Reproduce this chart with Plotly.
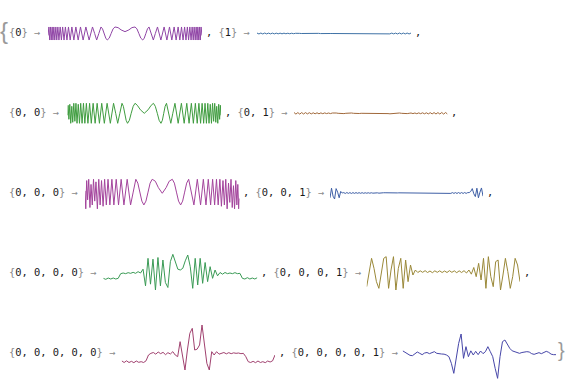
import plotly.graph_objects as go

W, H = 566, 386

# ---------------- data ----------------
# {0}  (time 0..100, value)
t_00 = [0, 0.6, 1.1, 1.6, 2.1, 2.7, 3.2, 3.8, 4.4, 5.1, 5.7, 6.4, 7.1, 7.9, 8.7, 9.5, 10.4, 11.3, 12.3, 13.3,
        14.4, 15.5, 16.8, 18.1, 19.6, 21.1, 22.8, 24.6, 26.7, 28.9, 30.3, 31.6, 33.0, 34.4, 35.4, 36.45, 37.5, 38.5,
        39.75, 41.0, 42.25, 43.5, 45.5, 47.5, 50,
        52.5, 54.5, 56.5, 57.75, 59, 60.25, 61.5, 62.5, 63.55, 64.6, 65.6, 67, 68.4, 69.7, 71.1, 73.3, 75.4, 77.2,
        78.9, 80.4, 81.9, 83.2, 84.5, 85.6, 86.7, 87.7, 88.7, 89.6, 90.5, 91.3, 92.1, 92.9, 93.6, 94.3, 94.9, 95.6,
        96.2, 96.8, 97.3, 97.9, 98.4, 98.9, 99.4, 100]
v_00 = [-0.3, 1, -1, 1, -1, 1, -1, 1, -1, 1, -1, 1, -1, 1, -1, 1, -1, 1, -1, 1,
        -1, 1, -1, 1, -1, 1, -1, 1, -1, 1, 0, -1, 0, 1, 0.71, 0, -0.71, -1,
        -0.71, 0, 0.71, 1, 0.9, 0.55, 0.28,
        0.55, 0.9, 1, 0.71, 0, -0.71, -1, -0.71, 0, 0.71, 1, 0, -1, 0, 1, -1, 1, -1,
        1, -1, 1, -1, 1, -1, 1, -1, 1, -1, 1, -1, 1, -1, 1, -1, 1, -1,
        1, -1, 1, -1, 1, -1, 1, -0.3]

# {1}  (uniform samples)
v_01 = [0.07, -0.07, 0.07, -0.07, 0.07, -0.06, 0.06, -0.06, 0.06, -0.06, 0.05, -0.05, 0.05, -0.05, 0.05, -0.04,
        0.04, -0.04, 0.04, -0.03, 0.03, -0.03, 0.02,
        0.0, 0.01, 0.0, -0.01, 0.0, 0.02, 0.04, 0.05, 0.04, 0.02, -0.01, -0.03, -0.04, -0.03, 0.0, 0.0, 0.0, 0.0, 0.0,
        0.0, -0.03, -0.04, -0.03, -0.01, 0.02, 0.04, 0.05, 0.04, 0.02, 0.0, -0.01, 0.0, 0.01, 0.0,
        -0.02, 0.02, -0.03, 0.03, -0.03, 0.04, -0.04, 0.04, -0.05, 0.05, -0.05, 0.05, -0.06, 0.06, -0.06, 0.06,
        -0.07, 0.07, -0.07, 0.07, -0.07, 0.07, -0.07, 0.07]

# {0, 0}
t_000 = [0, 0.4, 0.9, 1.5, 2.1, 2.8, 3.4, 4.1, 4.8, 5.5, 6.2, 7.0, 7.8, 8.6, 9.5, 10.4, 11.3, 12.3, 13.3, 14.4,
         15.5, 16.7, 18.0, 19.3, 20.8, 22.3, 24.0, 25.8, 27.9, 30.0, 31.4, 32.7, 34.1, 35.5, 36.4, 37.3, 38.2, 39.1,
         40.3, 41.5, 42.8, 44.0, 45.5, 47.5, 50,
         52.5, 54.5, 56, 57.2, 58.5, 59.7, 60.9, 61.8, 62.7, 63.6, 64.5, 65.9, 67.3, 68.6, 70, 72.1, 74.2, 76, 77.7,
         79.2, 80.7, 82, 83.3, 84.5, 85.6, 86.7, 87.7, 88.7, 89.6, 90.5, 91.4, 92.2, 93, 93.8, 94.5, 95.2, 95.9,
         96.6, 97.2, 97.9, 98.5, 99.1, 99.6, 100]
v_000 = [-0.2, 0.8, -0.6, 0.9, -1, 0.7, -0.9, 1, -0.8, 1, -1, 0.9, -1, 1, -1, 1, -1, 1, -1, 1,
         -1, 1, -1, 1, -1, 1, -1, 1, -1, 1, 0, -1, 0, 1, 0.7, 0, -0.7, -1,
         -0.7, 0, 0.7, 1, 0.8, 0.35, 0.0,
         0.35, 0.8, 1, 0.7, 0, -0.7, -1, -0.7, 0, 0.7, 1, 0, -1, 0, 1, -1, 1, -1, 1,
         -1, 1, -1, 1, -1, 1, -1, 1, -1, 1, -1, 1, -1, 0.9, -1, 1, -0.8, 1,
         -0.9, 0.7, -1, 0.9, -0.6, 0.8, -0.2]

# {0, 1}
v_001 = [0.08, -0.08, 0.07, -0.08, 0.07, -0.07, 0.07, -0.06, 0.06, -0.06, 0.05, -0.05, 0.05, -0.05, 0.04, -0.04,
         0.04, -0.03, 0.03, -0.03,
         0.03, 0.05, 0.03, 0.0, -0.03, -0.05, -0.03, 0.0, 0.03, 0.05, 0.03, 0.0, -0.02, -0.03, -0.02, 0.0, 0.0,
         0.01, 0.02, 0.01,
         0.0, -0.01, -0.02, -0.01, 0.0, 0.02, 0.03, 0.02, 0.0, -0.03, -0.05, -0.03, 0.0, 0.03, 0.05, 0.03, 0.0,
         -0.03, -0.05, -0.03,
         0.0, 0.03, -0.03, 0.03, -0.04, 0.04, -0.04, 0.05, -0.05, 0.05, -0.06, 0.06, -0.06, 0.07, -0.07, 0.07,
         -0.07, 0.08, -0.08, 0.08, -0.08]

# {0, 0, 0}
t_0000 = [0, 0.5, 1.1, 1.7, 2.4, 3.2, 3.9, 4.7, 5.5, 6.3, 7.1, 8.0, 8.9, 9.8, 10.7, 11.7, 12.7, 13.8, 14.9, 16.1,
          17.4, 18.7, 20.2, 21.7, 23.4, 25.2, 27.3, 29.5, 31.2, 32.9, 34.2, 35.5, 36.8, 38.1, 39.45, 40.8, 42.15,
          43.5, 45.5, 47.5, 50,
          52.5, 54.5, 56.5, 57.85, 59.2, 60.55, 61.9, 63.2, 64.5, 65.8, 67.1, 68.8, 70.5, 72.7, 74.8, 76.6, 78.3,
          79.8, 81.3, 82.6, 83.9, 85.1, 86.2, 87.3, 88.3, 89.3, 90.2, 91.1, 92.0, 92.9, 93.7, 94.5, 95.3, 96.1,
          96.8, 97.6, 98.3, 98.9, 99.5, 100]
v_0000 = [0.1, -1.3, 0.9, -0.6, 1.0, -1.2, 0.6, -1.0, 1.0, -0.7, 0.8, -1.3, 1.0, -1.0, 0.9, -1.1, 1.0, -1.0, 1.0, -1.0,
          1.0, -1.0, 1.0, -1.0, 1.0, -1.0, 1.0, -1.0, 0, 1, 0.7, 0, -0.7, -1, -0.7, 0, 0.7,
          1, 0.85, 0.35, -0.09,
          0.35, 0.85, 1, 0.7, 0, -0.7, -1, -0.7, 0, 0.7, 1, 0, -1, 1, -1, 1, -1,
          1, -1, 1, -1, 1, -1, 1, -1.1, 0.9, -1.0, 1.0, -1.3, 0.7, -0.8, 1.0, -1.2, 0.5,
          -1.3, 0.9, -1.0, 0.6, -1.3, -0.5]

# {0, 0, 1}
v_0001 = [-0.6, 0.6, -0.4, -0.75, 0.55, 0.1, -0.6, 0.2, 0.0, 0.05,
          -0.06, 0.06, -0.05, 0.05, -0.06, 0.05, -0.05, 0.05, -0.04, 0.04,
          -0.04, 0.04, -0.04, 0.03, -0.03, 0.03, -0.03, 0.03, -0.02, 0.02,
          -0.02, 0.02, -0.02, 0.02, 0.02, 0.03, 0.03, 0.02, 0.0, -0.02,
          -0.03, -0.03, -0.02, 0.0, 0.01, 0.02, 0.02, 0.01, 0.0, 0.0, 0.0, 0.0, 0.0, -0.01, -0.02, -0.02, -0.01,
          0.0, 0.02, 0.03, 0.03,
          0.02, 0.0, -0.02, 0.02, -0.02, 0.02, -0.02, 0.02, -0.03, 0.03,
          -0.03, 0.03, -0.03, 0.04, -0.04, 0.04, -0.04, 0.04, -0.05, 0.05,
          -0.05, 0.05, -0.06, 0.06, -0.06, 0.06, -0.06, 0.06, -0.05, 0.05,
          0.05, 0.2, 0.55, -0.1, -0.45, 0.6, -0.6, 0.1, 0.63, -0.4]

# {0, 0, 0, 0}
v_00000 = [-0.40, -0.46, -0.38, -0.44, -0.38, -0.44, -0.40, -0.12, -0.08, -0.12,
           -0.06, -0.10, -0.04, -0.10, 0.00, -0.08, 0.15, -0.85, 0.80, -0.75,
           0.75, -1.10, 0.85, -0.85, 0.70, -0.65, -0.95, 0.60, 1.04, 0.55,
           0.15, 0.10, 0.20, 0.65, 1.00, 0.30, -1.00, 0.80, -0.80, 0.80,
           -0.70, 0.55, -0.60, 0.30, -0.40, 0.10, -0.25, -0.05, -0.15, -0.05,
           -0.12, -0.08, -0.12, -0.06, -0.12, -0.10, -0.40, -0.44, -0.36, -0.44,
           -0.38, -0.44, -0.36]

# {0, 0, 0, 1}
v_00001 = [-0.90, 0.00, 0.80, 0.20, -0.60, -1.00, -0.20, 0.80, 0.90, -1.00,
           0.10, 0.90, -1.10, 0.20, 0.80, -1.00, 0.70, -0.60, 0.40, -0.20,
           0.10, -0.05, 0.05, -0.04, 0.06, -0.05, 0.04, -0.06, 0.05, -0.04,
           0.05, -0.05, 0.04, -0.05, 0.06, -0.04, 0.05, -0.06, 0.05, -0.05,
           0.06, -0.08, 0.10, -0.15, 0.25, -0.30, 0.50, -0.50, 0.80, -1.00,
           0.90, -0.30, -0.90, 0.60, 0.70, -1.10, -0.20, 0.80, 0.00, -1.00,
           -0.30, 0.80, 0.40, -0.60]

# {0, 0, 0, 0, 0}
v_000000 = [-0.45, -0.55, -0.45, -0.55, -0.48, -0.56, -0.46, -0.54, -0.50, -0.55,
            -0.45, -0.10, 0.00, 0.05, -0.05, 0.08, -0.02, 0.06, -0.08, 0.04,
            -0.04, 0.10, -0.10, -0.20, 0.70, -0.30, -1.00, 0.20, 1.20, 1.50,
            0.20, 0.25, 0.50, 1.70, 0.60, -0.60, -1.00, 0.10, -0.10, 0.10,
            -0.05, 0.00, 0.05, -0.03, 0.04, -0.02, 0.03, 0.00, 0.02, -0.02,
            0.00, -0.20, -0.50, -0.55, -0.48, -0.56, -0.46, -0.55, -0.50, -0.56,
            -0.46, -0.52, -0.45, -0.10]

# {0, 0, 0, 0, 1}
v_000001 = [0.15, 0.05, -0.05, -0.12, -0.14, -0.02, 0.08, 0.00, -0.08, 0.02,
            0.05, -0.02, 0.06, 0.10, 0.00, -0.04, -0.04, -0.05, -0.10, -0.20,
            -0.60, -1.20, -0.30, 0.60, 1.16, -0.30, 0.40, -0.20, 0.15, -0.10,
            0.12, -0.08, 0.14, -0.02, 0.10, 0.40, 0.10, -0.20, -0.90, -1.50,
            -0.20, 0.70, 0.80, 0.50, 0.30, 0.15, 0.10, 0.05, 0.00, 0.05,
            0.08, 0.10, 0.08, -0.02, -0.06, 0.00, 0.04, -0.02, 0.06, 0.12,
            0.06, -0.05, -0.08, -0.08]

labels = [["{0}", "{1}"], ["{0, 0}", "{0, 1}"], ["{0, 0, 0}", "{0, 0, 1}"],
          ["{0, 0, 0, 0}", "{0, 0, 0, 1}"], ["{0, 0, 0, 0, 0}", "{0, 0, 0, 0, 1}"]]

# ---------------- layout of panels (pixels) ----------------
panels = [
    (t_00, v_00, "#9046a6", (48, 202), (26, 41), (-1.15, 1.15)),
    (None, v_01, "#3f72a6", (257, 411), (26, 41), (-1.15, 1.15)),
    (t_000, v_000, "#3f9c3f", (67.5, 221), (102.3, 124.3), (-1.1, 1.1)),
    (None, v_001, "#a0683a", (294, 447.5), (102.3, 124.3), (-1.1, 1.1)),
    (t_0000, v_0000, "#a3449c", (85, 239.5), (178, 211), (-1.47, 1.1)),
    (None, v_0001, "#3e5fa6", (330, 483), (185, 201), (-1.0, 1.0)),
    (None, v_00000, "#3a9a55", (103.3, 257.3), (254, 290), (-1.1, 1.06)),
    (None, v_00001, "#9a8838", (366.7, 520), (254, 290), (-1.1, 1.06)),
    (None, v_000000, "#a0416f", (121.7, 275), (324, 371), (-1.06, 1.76)),
    (None, v_000001, "#4646a8", (402.7, 556), (333, 379.5), (-1.57, 1.22)),
]

fig = go.Figure()
layout_axes = {}
for k, (xs, ys, col, (x0, x1), (y0, y1), yr) in enumerate(panels, start=1):
    if xs is None:
        xs = list(range(len(ys)))
    sfx = "" if k == 1 else str(k)
    fig.add_trace(go.Scatter(x=xs, y=ys, mode="lines", line=dict(color=col, width=1),
                             xaxis="x" + sfx, yaxis="y" + sfx, hoverinfo="skip", showlegend=False))
    layout_axes["xaxis" + sfx] = dict(domain=[x0 / W, x1 / W], range=[min(xs), max(xs)],
                                      visible=False, anchor="y" + sfx, fixedrange=True)
    layout_axes["yaxis" + sfx] = dict(domain=[1 - y1 / H, 1 - y0 / H], range=list(yr),
                                      visible=False, anchor="x" + sfx, fixedrange=True)

GRAY = "#8a8a8a"


def fmt(s, lead_comma=False):
    s = s.replace("{", "<span style='color:%s'>{</span>" % GRAY)
    s = s.replace("}", "<span style='color:%s'>}</span>" % GRAY)
    s = s + " <span style='color:%s'>→</span>" % GRAY
    if lead_comma:
        s = ", " + s
    return s


rows_y = [32, 112, 192, 272, 352]
second_x = [205, 224, 242, 260, 278]
close_x = [414, 450, 486, 523]
annots = []
font = dict(family="DejaVu Sans Mono", size=10.4, color="#1a1a1a")
for r in range(5):
    yy = 1 - rows_y[r] / H
    annots.append(dict(text=fmt(labels[r][0]), x=8 / W, y=yy, xref="paper", yref="paper",
                       xanchor="left", yanchor="middle", showarrow=False, font=font, borderpad=0))
    annots.append(dict(text=fmt(labels[r][1], True), x=second_x[r] / W, y=yy, xref="paper", yref="paper",
                       xanchor="left", yanchor="middle", showarrow=False, font=font, borderpad=0))
    if r < 4:
        annots.append(dict(text=",", x=close_x[r] / W, y=yy, xref="paper", yref="paper",
                           xanchor="left", yanchor="middle", showarrow=False, font=font, borderpad=0))

annots.append(dict(text="{", x=-1 / W, y=1 - 30 / H, xref="paper", yref="paper", xanchor="left",
                   yanchor="middle", showarrow=False, borderpad=0,
                   font=dict(family="Liberation Sans", size=24, color="#9a9a9a")))
annots.append(dict(text="}", x=557 / W, y=1 - 350 / H, xref="paper", yref="paper", xanchor="left",
                   yanchor="middle", showarrow=False, borderpad=0,
                   font=dict(family="Liberation Sans", size=20, color="#9a9a9a")))

fig.update_layout(width=W, height=H, margin=dict(l=0, r=0, t=0, b=0),
                  paper_bgcolor="white", plot_bgcolor="white", annotations=annots, **layout_axes)

fig.write_html("out.html", config={"displayModeBar": False},
               post_script="document.body.style.margin='0';document.body.style.overflow='hidden';")
